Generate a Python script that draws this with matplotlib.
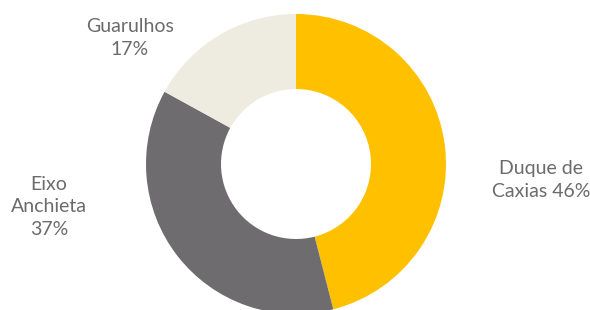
import matplotlib.pyplot as plt

categories = ['Duque de\nCaxias', 'Eixo\nAnchieta', 'Guarulhos']
shares = [46, 37, 17]
colors = ['#FFC000', '#6E6C6E', '#EEEBE0']

TEXT_COLOR = '#6B6B6B'

def main():
    fig = plt.figure(figsize=(5.9, 3.1), dpi=100)
    ax = fig.add_axes([0, 0, 1, 1])

    ax.pie(shares, colors=colors, startangle=90, counterclock=False,
           radius=150, center=(296, 146),
           wedgeprops=dict(width=75, edgecolor='none'))

    # pie() resets the limits, so set pixel units afterwards
    ax.set_xlim(0, 590)
    ax.set_ylim(0, 310)
    ax.set_aspect('equal')
    ax.axis('off')

    # label text: name + percent, placed beside each slice
    label_pos = [(541, 130, 'Duque de\nCaxias {}%', 'center'),
                 (49, 103, 'Eixo\nAnchieta\n{}%', 'center'),
                 (130, 272, 'Guarulhos\n{}%', 'center')]
    for (x, y, fmt, ha), val in zip(label_pos, shares):
        ax.text(x, y, fmt.format(val), ha=ha, va='center', fontsize=14,
                color=TEXT_COLOR, family='Lato', linespacing=1.4)

    fig.savefig('out.png', dpi=100)

if __name__ == "__main__":
    main()
